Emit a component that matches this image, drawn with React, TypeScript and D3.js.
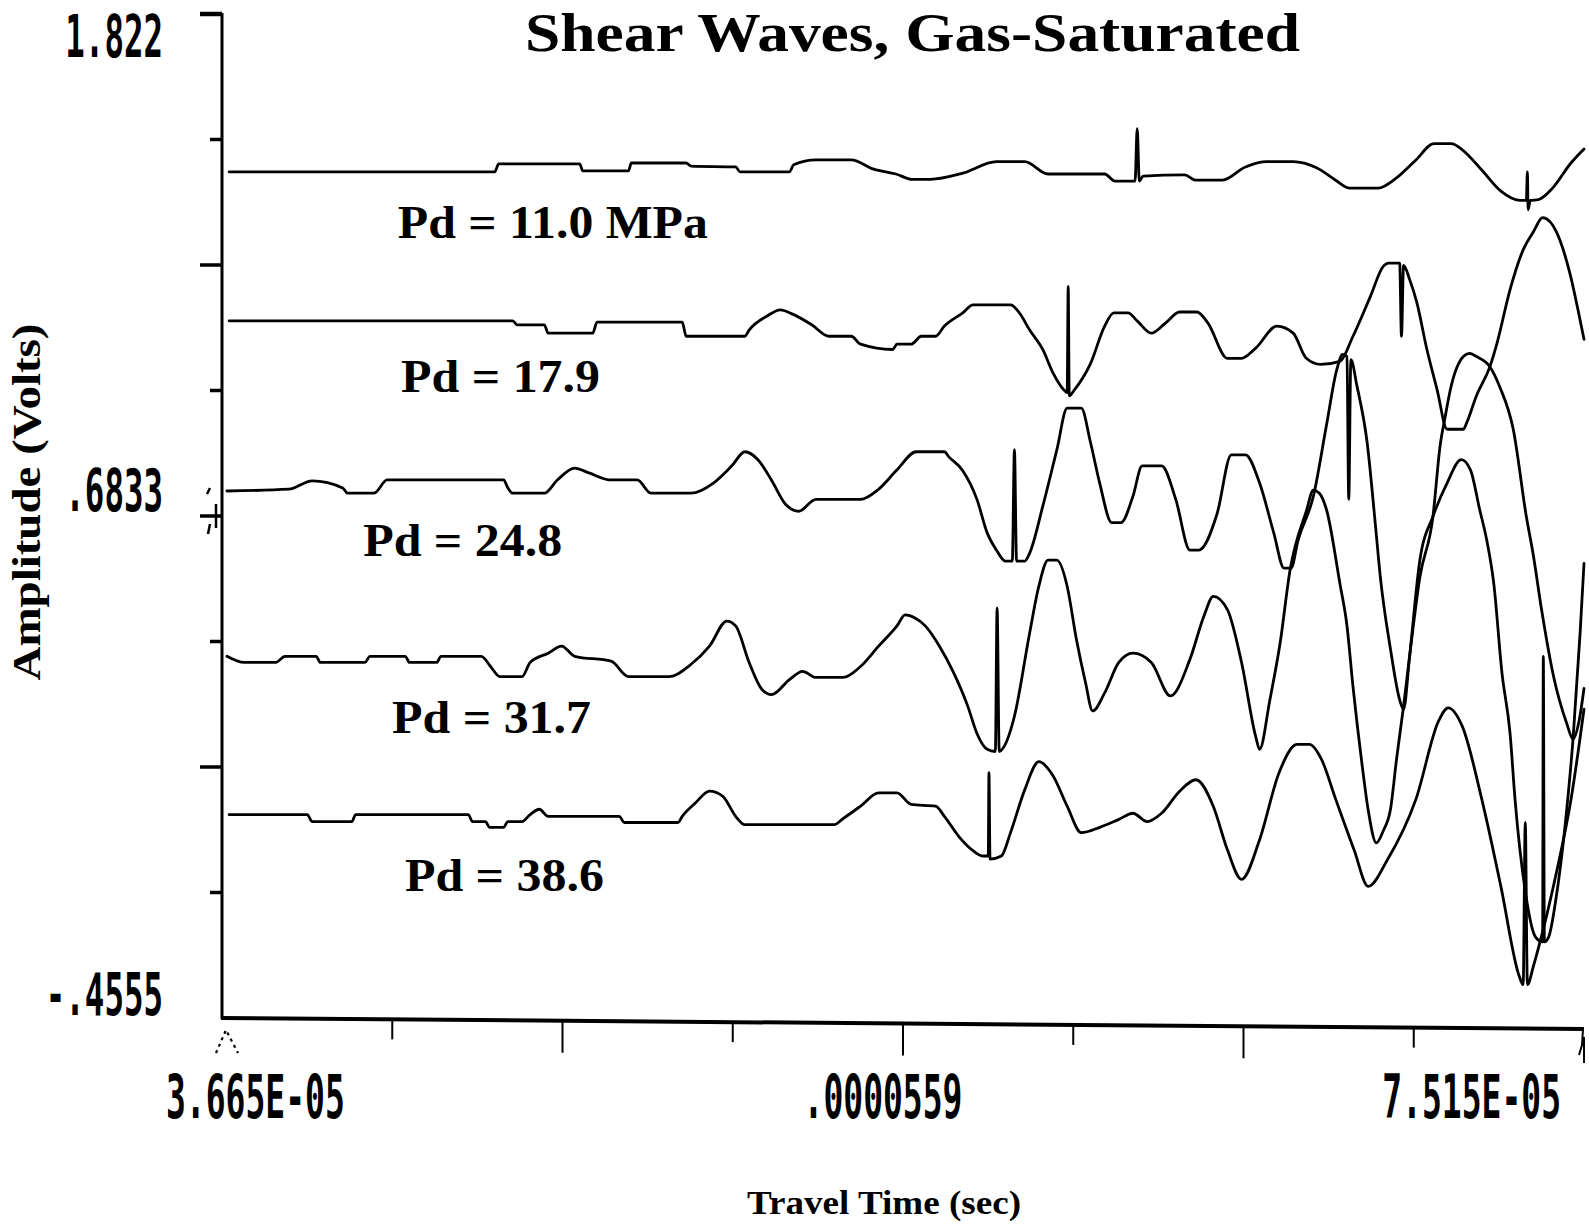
import React from 'react';
import * as d3 from 'd3';

// ---- axis definitions (from the original plot) ----
const X_DOMAIN = [3.665e-5, 7.515e-5];
const Y_DOMAIN = [-0.4555, 1.822];
const X_TICK_VALUES = [3.665e-5, 5.59e-5, 7.515e-5];
const X_TICK_LABELS = ['3.665E-05', '.0000559', '7.515E-05'];
const Y_TICK_VALUES = [1.822, 0.6833, -0.4555];
const Y_TICK_LABELS = ['1.822', '.6833', '-.4555'];
const X_MINOR_DIVISIONS = 8;
const Y_MINOR_DIVISIONS = 8;

const TITLE = 'Shear Waves, Gas-Saturated';
const X_TITLE = 'Travel Time (sec)';
const Y_TITLE = 'Amplitude (Volts)';

// trace labels and their anchor (time in µs, amplitude in V)
const PRESSURE_LABELS = ['Pd = 11.0 MPa', 'Pd = 17.9', 'Pd = 24.8', 'Pd = 31.7', 'Pd = 38.6'];
const LABEL_TIMES = [41.62, 41.71, 40.64, 41.455, 41.82];
const LABEL_AMPS = [1.314, 0.9645, 0.5925, 0.191, -0.167];
const LABEL_WIDTHS = [310, 199, 199, 199, 199];

// ---- waveforms: [time (µs), amplitude (V)] ----
const tracePd110: [number, number][] = [
  [36.85,1.464],[44.36,1.464],[44.47,1.482],[46.76,1.482],[46.85,1.466],[48.14,1.466],[48.22,1.484],[49.77,1.484],
  [49.91,1.477],[51.17,1.475],[51.29,1.464],[52.69,1.464],[52.81,1.480],[53.44,1.491],[54.44,1.491],[55.07,1.470],
  [55.70,1.459],[56.16,1.447],[56.67,1.447],[57.59,1.461],[58.54,1.487],[59.34,1.487],[60.00,1.459],[61.60,1.459],
  [61.89,1.443],[62.46,1.443],[62.52,1.562],[62.58,1.443],[62.69,1.454],[63.86,1.457],[64.18,1.445],[64.92,1.445],
  [65.58,1.475],[66.18,1.487],[66.93,1.487],[67.59,1.473],[68.13,1.445],[68.53,1.427],[69.34,1.427],[69.85,1.450],
  [70.40,1.491],[70.91,1.528],[71.40,1.528],[71.71,1.514],[72.26,1.468],[72.80,1.420],[73.35,1.399],[73.52,1.399],
  [73.55,1.464],[73.57,1.378],[73.63,1.399],[73.86,1.401],[74.26,1.427],[74.78,1.484],[75.15,1.516],
];

const tracePd179: [number, number][] = [
  [36.85,1.126],[44.87,1.126],[44.99,1.117],[45.76,1.117],[45.87,1.098],[47.13,1.098],[47.25,1.123],[49.66,1.123],
  [49.77,1.091],[51.43,1.091],[51.55,1.105],[52.06,1.137],[52.43,1.151],[52.81,1.140],[53.32,1.117],[53.81,1.091],
  [54.44,1.091],[54.70,1.073],[55.61,1.061],[55.73,1.073],[56.13,1.073],[56.42,1.091],[56.82,1.091],[57.07,1.114],
  [57.59,1.144],[57.88,1.162],[58.94,1.162],[59.19,1.144],[59.48,1.105],[59.85,1.061],[60.14,1.008],[60.45,0.969],
  [60.54,0.963],[60.57,1.204],[60.60,0.956],[60.74,0.969],[61.20,1.029],[61.60,1.114],[61.86,1.144],[62.26,1.144],
  [62.52,1.126],[62.92,1.098],[63.32,1.121],[63.72,1.146],[64.21,1.146],[64.52,1.121],[65.07,1.041],[65.47,1.041],
  [65.87,1.064],[66.47,1.114],[66.93,1.098],[67.30,1.041],[67.70,1.027],[68.25,1.034],[68.62,1.091],[69.11,1.181],
  [69.48,1.250],[69.62,1.257],[69.94,1.257],[69.99,1.091],[70.05,1.252],[70.22,1.220],[70.42,1.169],[70.71,1.061],
  [71.00,0.969],[71.28,0.880],[71.74,0.880],[71.83,0.894],[72.11,0.956],[72.49,1.022],[72.69,1.075],[73.06,1.197],
  [73.43,1.287],[73.72,1.328],[73.98,1.360],[74.38,1.326],[74.75,1.234],[74.98,1.151],[75.15,1.084],
];

const tracePd248: [number, number][] = [
  [36.79,0.740],[38.54,0.744],[39.20,0.763],[40.06,0.747],[40.20,0.735],[40.95,0.735],[41.32,0.765],[44.61,0.765],
  [44.73,0.747],[44.87,0.735],[45.76,0.735],[46.13,0.765],[46.62,0.792],[47.02,0.781],[47.65,0.765],[48.39,0.765],
  [48.77,0.735],[49.91,0.735],[50.54,0.758],[51.06,0.797],[51.43,0.829],[51.80,0.811],[52.18,0.765],[52.58,0.710],
  [52.95,0.694],[53.44,0.721],[54.70,0.721],[55.21,0.744],[55.73,0.788],[56.27,0.829],[57.07,0.829],[57.19,0.818],
  [57.59,0.786],[57.99,0.721],[58.28,0.645],[58.54,0.606],[58.79,0.581],[58.99,0.581],[59.05,0.834],[59.11,0.581],
  [59.34,0.581],[59.48,0.599],[59.85,0.705],[60.25,0.834],[60.54,0.928],[60.94,0.928],[61.20,0.850],[61.46,0.758],
  [61.80,0.668],[62.06,0.668],[62.40,0.728],[62.66,0.797],[63.21,0.797],[63.61,0.721],[64.01,0.606],[64.26,0.606],
  [64.78,0.689],[65.18,0.822],[65.58,0.822],[65.98,0.758],[66.38,0.645],[66.67,0.565],[66.87,0.565],[67.07,0.629],
  [67.50,0.728],[67.87,0.889],[68.16,1.015],[68.33,1.050],[68.45,1.045],[68.50,0.721],[68.56,1.038],[68.73,0.979],
  [69.02,0.850],[69.25,0.666],[69.39,0.547],[69.68,0.381],[69.94,0.266],[70.05,0.245],[70.22,0.365],[70.51,0.583],
  [70.88,0.682],[71.28,0.758],[71.68,0.811],[71.94,0.788],[72.20,0.698],[72.40,0.629],[72.60,0.530],[72.83,0.328],
  [73.06,0.190],[73.20,0.041],[73.49,-0.168],[73.78,-0.272],[73.98,-0.283],[74.00,0.365],[74.03,-0.283],[74.15,-0.272],
  [74.38,-0.173],[74.66,0.016],[74.84,0.177],[75.04,0.418],[75.15,0.576],
];

const tracePd317: [number, number][] = [
  [36.79,0.365],[37.28,0.351],[38.17,0.351],[38.43,0.365],[39.31,0.365],[39.43,0.351],[40.69,0.351],[40.83,0.365],
  [41.83,0.365],[41.95,0.351],[42.72,0.351],[42.84,0.365],[43.98,0.365],[44.24,0.342],[44.50,0.319],[45.13,0.319],
  [45.36,0.351],[45.87,0.372],[46.25,0.388],[46.62,0.365],[47.65,0.354],[48.14,0.319],[49.28,0.319],[49.91,0.347],
  [50.43,0.388],[50.92,0.445],[51.17,0.434],[51.55,0.351],[51.92,0.289],[52.18,0.278],[52.69,0.312],[53.06,0.331],
  [53.44,0.317],[54.21,0.317],[54.70,0.342],[55.21,0.388],[55.73,0.434],[55.96,0.459],[56.24,0.452],[56.53,0.434],
  [56.93,0.388],[57.33,0.328],[57.73,0.252],[57.99,0.190],[58.28,0.154],[58.51,0.149],[58.56,0.475],[58.62,0.149],
  [58.74,0.158],[59.05,0.229],[59.48,0.418],[59.74,0.524],[60.00,0.583],[60.25,0.583],[60.54,0.524],[60.80,0.404],
  [61.06,0.305],[61.26,0.241],[61.60,0.282],[62.00,0.351],[62.40,0.372],[62.92,0.351],[63.46,0.275],[64.01,0.358],
  [64.41,0.457],[64.67,0.501],[65.07,0.471],[65.47,0.351],[65.87,0.183],[65.98,0.154],[66.27,0.266],[66.56,0.395],
  [66.84,0.560],[67.30,0.694],[67.50,0.742],[67.67,0.735],[67.87,0.698],[68.25,0.530],[68.45,0.434],[68.62,0.296],
  [68.88,0.117],[69.05,0.016],[69.28,-0.058],[69.48,-0.030],[69.68,0.018],[69.85,0.131],[70.05,0.252],[70.22,0.365],
  [70.51,0.544],[70.88,0.682],[71.08,0.841],[71.23,0.910],[71.37,0.969],[71.74,1.045],[71.91,1.052],[72.11,1.045],
  [72.49,1.022],[72.77,0.976],[73.15,0.880],[73.52,0.682],[73.72,0.593],[73.95,0.471],[74.29,0.319],[74.66,0.213],
  [74.84,0.177],[75.01,0.218],[75.15,0.292],
];

const tracePd386: [number, number][] = [
  [36.85,0.006],[39.06,0.006],[39.20,-0.010],[40.32,-0.010],[40.43,0.006],[43.61,0.006],[43.73,-0.010],[44.10,-0.010],
  [44.21,-0.023],[44.61,-0.023],[44.73,-0.010],[45.13,-0.010],[45.36,0.006],[45.62,0.018],[45.87,0.002],[47.88,0.002],
  [48.02,-0.012],[49.54,-0.012],[49.66,0.002],[50.03,0.032],[50.43,0.059],[50.80,0.048],[51.17,0.002],[51.43,-0.017],
  [53.95,-0.017],[54.21,-0.003],[54.70,0.025],[55.21,0.055],[55.73,0.055],[56.13,0.029],[56.82,0.025],[57.07,0.002],
  [57.48,-0.044],[57.88,-0.076],[58.16,-0.088],[58.31,-0.088],[58.33,0.101],[58.36,-0.095],[58.68,-0.088],[58.94,-0.035],
  [59.34,0.062],[59.74,0.126],[60.14,0.094],[60.54,0.025],[60.94,-0.035],[61.46,-0.023],[62.00,-0.005],[62.40,0.009],
  [62.80,-0.010],[63.21,0.009],[63.72,0.059],[64.18,0.085],[64.67,0.025],[65.07,-0.074],[65.47,-0.141],[65.98,-0.051],
  [66.53,0.101],[67.04,0.165],[67.39,0.165],[67.73,0.131],[68.13,0.041],[68.65,-0.074],[69.05,-0.157],[69.59,-0.097],
  [70.40,0.041],[71.05,0.220],[71.31,0.248],[71.71,0.206],[72.26,0.041],[72.80,-0.157],[73.32,-0.361],[73.43,-0.380],
  [73.49,-0.012],[73.55,-0.380],[73.72,-0.338],[73.92,-0.279],[74.38,-0.122],[74.78,0.039],[75.15,0.245],
];

const TRACES = [tracePd110, tracePd179, tracePd248, tracePd317, tracePd386];

// ---- layout ----
const W = 1589;
const H = 1226;
const PLOT_LEFT = 222;
const PLOT_RIGHT = 1584;
const PLOT_TOP = 14;
const PLOT_BOTTOM = 1018;
const X_AXIS_SKEW = 11; // scanned axis drops slightly toward the right

const serif = '"Liberation Serif", "Times New Roman", Times, serif';
const mono = '"DejaVu Sans Mono", "Liberation Mono", monospace';

export default function App() {
  const x = d3.scaleLinear().domain(X_DOMAIN).range([PLOT_LEFT, PLOT_RIGHT]);
  const y = d3.scaleLinear().domain(Y_DOMAIN).range([PLOT_BOTTOM, PLOT_TOP]);

  const line = d3
    .line<[number, number]>()
    .x((d) => x(d[0] * 1e-6))
    .y((d) => y(d[1]))
    .curve(d3.curveMonotoneX);

  const axisY = (px: number) => PLOT_BOTTOM + ((px - PLOT_LEFT) / (PLOT_RIGHT - PLOT_LEFT)) * X_AXIS_SKEW;

  const xStep = (X_DOMAIN[1] - X_DOMAIN[0]) / X_MINOR_DIVISIONS;
  const xTicks = d3.range(1, X_MINOR_DIVISIONS).map((i) => ({ v: X_DOMAIN[0] + i * xStep, long: i % 2 === 0 }));
  const yStep = (Y_DOMAIN[1] - Y_DOMAIN[0]) / Y_MINOR_DIVISIONS;
  const yTicks = d3.range(0, Y_MINOR_DIVISIONS).map((i) => ({ v: Y_DOMAIN[1] - i * yStep, long: i % 2 === 0 }));

  const yLabelBaselines = [57, 511, 1015];
  const xLabelAnchors = ['start', 'middle', 'end'];
  const xLabelOffsets = [-56, -20, -23];

  return (
    <svg
      width={W}
      height={H}
      viewBox={`0 0 ${W} ${H}`}
      style={{ position: 'absolute', left: 0, top: 0, display: 'block', background: '#fff' }}
    >
      <rect x={0} y={0} width={W} height={H} fill="#fff" />

      {/* title */}
      <text
        x={525}
        y={51}
        fontFamily={serif}
        fontWeight="bold"
        fontSize={55}
        textLength={775}
        lengthAdjust="spacingAndGlyphs"
        fill="#000"
      >
        {TITLE}
      </text>

      {/* y axis */}
      <line x1={PLOT_LEFT} y1={PLOT_TOP - 1} x2={PLOT_LEFT} y2={PLOT_BOTTOM + 1} stroke="#000" strokeWidth={3} />
      {yTicks.map((t, i) => (
        <line
          key={'yt' + i}
          x1={t.long ? PLOT_LEFT - 22 : PLOT_LEFT - 12}
          x2={PLOT_LEFT}
          y1={y(t.v)}
          y2={y(t.v)}
          stroke="#000"
          strokeWidth={i === 0 ? 4.5 : 3.5}
        />
      ))}
      {/* small scan marks near the middle y tick */}
      <path
        d={`M${PLOT_LEFT - 15},${y(Y_TICK_VALUES[1]) - 22} l3,-6 M${PLOT_LEFT - 6},${y(Y_TICK_VALUES[1]) - 12} l0,24 M${PLOT_LEFT - 12},${y(Y_TICK_VALUES[1]) + 8} l-2,10`}
        stroke="#000"
        strokeWidth={2.5}
        fill="none"
      />

      {Y_TICK_LABELS.map((lab, i) => (
        <text
          key={'yl' + i}
          transform={`translate(163,${yLabelBaselines[i]}) scale(0.55,1)`}
          textAnchor="end"
          fontFamily={mono}
          fontWeight="bold"
          fontSize={59}
          fill="#000"
        >
          {lab}
        </text>
      ))}

      {/* x axis */}
      <line
        x1={PLOT_LEFT - 1}
        y1={axisY(PLOT_LEFT)}
        x2={PLOT_RIGHT}
        y2={axisY(PLOT_RIGHT)}
        stroke="#000"
        strokeWidth={4}
      />
      {xTicks.map((t, i) => (
        <line
          key={'xt' + i}
          x1={x(t.v)}
          x2={x(t.v)}
          y1={axisY(x(t.v))}
          y2={axisY(x(t.v)) + (t.long ? 32 : 20)}
          stroke="#000"
          strokeWidth={2}
        />
      ))}
      {/* end markers of the x axis */}
      <path
        d={`M${PLOT_LEFT - 6},${PLOT_BOTTOM + 35} L${PLOT_LEFT + 4},${PLOT_BOTTOM + 12} L${PLOT_LEFT + 16},${PLOT_BOTTOM + 35}`}
        stroke="#000"
        strokeWidth={2.2}
        strokeDasharray="3,4"
        fill="none"
      />
      <path
        d={`M${PLOT_RIGHT - 1},${axisY(PLOT_RIGHT)} l-1,16 l-3,10 M${PLOT_RIGHT},${axisY(PLOT_RIGHT) + 8} l0,26`}
        stroke="#000"
        strokeWidth={2}
        fill="none"
      />

      {X_TICK_VALUES.map((v, i) => (
        <text
          key={'xl' + i}
          transform={`translate(${x(v) + xLabelOffsets[i]},1118) scale(0.55,1)`}
          textAnchor={xLabelAnchors[i] as any}
          fontFamily={mono}
          fontWeight="bold"
          fontSize={60}
          fill="#000"
        >
          {X_TICK_LABELS[i]}
        </text>
      ))}

      {/* axis titles */}
      <text
        x={884}
        y={1214}
        textAnchor="middle"
        fontFamily={serif}
        fontWeight="bold"
        fontSize={33}
        textLength={274}
        lengthAdjust="spacingAndGlyphs"
        fill="#000"
      >
        {X_TITLE}
      </text>
      <text
        transform="translate(40,502) rotate(-90)"
        textAnchor="middle"
        fontFamily={serif}
        fontWeight="bold"
        fontSize={40}
        textLength={357}
        lengthAdjust="spacingAndGlyphs"
        fill="#000"
      >
        {Y_TITLE}
      </text>

      {/* waveforms */}
      {TRACES.map((tr, i) => (
        <path
          key={'tr' + i}
          d={line(tr) || ''}
          fill="none"
          stroke="#000"
          strokeWidth={2.8}
          strokeLinejoin="round"
          strokeLinecap="round"
        />
      ))}

      {/* trace labels */}
      {PRESSURE_LABELS.map((lab, i) => (
        <text
          key={'pl' + i}
          x={x(LABEL_TIMES[i] * 1e-6)}
          y={y(LABEL_AMPS[i])}
          fontFamily={serif}
          fontWeight="bold"
          fontSize={46}
          textLength={LABEL_WIDTHS[i]}
          lengthAdjust="spacingAndGlyphs"
          fill="#000"
        >
          {lab}
        </text>
      ))}
    </svg>
  );
}
